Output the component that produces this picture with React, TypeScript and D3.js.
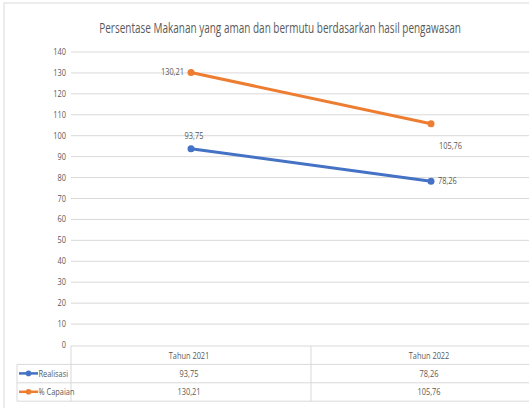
import React from "react";
import * as d3 from "d3";

const categories = ["Tahun 2021", "Tahun 2022"];
const realisasi = [93.75, 78.26];
const capaian = [130.21, 105.76];
const yTicks = [0, 10, 20, 30, 40, 50, 60, 70, 80, 90, 100, 110, 120, 130, 140];

const W = 529;
const H = 408;
const FONT = "'Open Sans', sans-serif";
const GRID = "#d9d9d9";
const TEXT = "#595959";
const BLUE = "#4472C4";
const ORANGE = "#ED7D31";

const fmt = (v: number) => v.toFixed(2).replace(".", ",");

// narrow text, like the condensed font of the original
function NText(props: { x: number; y: number; anchor?: string; size?: number; sx?: number; children: React.ReactNode }) {
  const { x, y, anchor = "start", size = 9, sx = 0.78, children } = props;
  return (
    <g transform={`translate(${x},${y}) scale(${sx},1)`}>
      <text x={0} y={0} textAnchor={anchor} fontSize={size} fill={TEXT}>
        {children}
      </text>
    </g>
  );
}

export default function App() {
  const left = 71;
  const right = 551;
  const x = d3.scaleBand<string>().domain(categories).range([left, right]);
  const y = d3.scaleLinear().domain([0, 140]).range([345, 52]);
  const cx = (c: string) => (x(c) as number) + x.bandwidth() / 2;
  const line = d3
    .line<number>()
    .x((_, i) => cx(categories[i]))
    .y((d) => y(d));

  const rowTop = 346;
  const rowH = 18.4;
  const series = [
    { name: "Realisasi", values: realisasi, color: BLUE },
    { name: "% Capaian", values: capaian, color: ORANGE },
  ];

  return (
    <svg
      width={W}
      height={H}
      style={{ position: "absolute", left: 0, top: 0, background: "#fff" }}
      fontFamily={FONT}
    >
      <rect x={4} y={3} width={600} height={500} fill="#fff" stroke={GRID} />
      <NText x={280} y={33} anchor="middle" size={14.5} sx={0.69}>
        Persentase Makanan yang aman dan bermutu berdasarkan hasil pengawasan
      </NText>

      {yTicks.map((t) => (
        <g key={t}>
          {t > 0 && (
            <line x1={left} x2={W} y1={y(t)} y2={y(t)} stroke={GRID} strokeWidth={1} />
          )}
          <NText x={66} y={y(t) + 3} anchor="end" size={9.5}>
            {t}
          </NText>
        </g>
      ))}

      {/* data table */}
      <g stroke={GRID} strokeWidth={1} fill="none">
        <line x1={left} x2={W} y1={rowTop} y2={rowTop} />
        <line x1={17} x2={W} y1={rowTop + rowH} y2={rowTop + rowH} />
        <line x1={17} x2={W} y1={rowTop + rowH * 2} y2={rowTop + rowH * 2} />
        <line x1={17} x2={W} y1={rowTop + rowH * 3} y2={rowTop + rowH * 3} />
        <line x1={17} x2={17} y1={rowTop + rowH} y2={rowTop + rowH * 3} />
        <line x1={left} x2={left} y1={rowTop} y2={rowTop + rowH * 3} />
        <line x1={right - x.bandwidth()} x2={right - x.bandwidth()} y1={rowTop} y2={rowTop + rowH * 3} />
      </g>
      {categories.map((c) => (
        <NText key={c} x={cx(c) - 2} y={rowTop + 12.5} anchor="middle" size={9.5}>
          {c}
        </NText>
      ))}
      {series.map((s, si) => {
        const ry = rowTop + rowH * (si + 1);
        return (
          <g key={s.name}>
            <line x1={19} x2={38} y1={ry + 9} y2={ry + 9} stroke={s.color} strokeWidth={2.5} />
            <circle cx={28.5} cy={ry + 9} r={2.8} fill={s.color} />
            <NText x={38.5} y={ry + 12.5} size={9.5}>
              {s.name}
            </NText>
            {s.values.map((v, i) => (
              <NText key={i} x={cx(categories[i]) - 2} y={ry + 12.5} anchor="middle" size={9.5}>
                {fmt(v)}
              </NText>
            ))}
          </g>
        );
      })}

      {/* lines */}
      {series.map((s) => (
        <g key={s.name}>
          <path d={line(s.values) as string} fill="none" stroke={s.color} strokeWidth={3} strokeLinecap="round" />
          {s.values.map((v, i) => (
            <circle key={i} cx={cx(categories[i])} cy={y(v)} r={3.5} fill={s.color} />
          ))}
        </g>
      ))}

      {/* data labels */}
      <NText x={cx(categories[0]) - 7} y={y(capaian[0]) + 3} anchor="end" size={9.5}>
        {fmt(capaian[0])}
      </NText>
      <NText x={cx(categories[0]) + 3} y={y(realisasi[0]) - 10} anchor="middle" size={9.5}>
        {fmt(realisasi[0])}
      </NText>
      <NText x={cx(categories[1]) + 8} y={y(capaian[1]) + 25} size={9.5}>
        {fmt(capaian[1])}
      </NText>
      <NText x={cx(categories[1]) + 7} y={y(realisasi[1]) + 3} size={9.5}>
        {fmt(realisasi[1])}
      </NText>
    </svg>
  );
}
